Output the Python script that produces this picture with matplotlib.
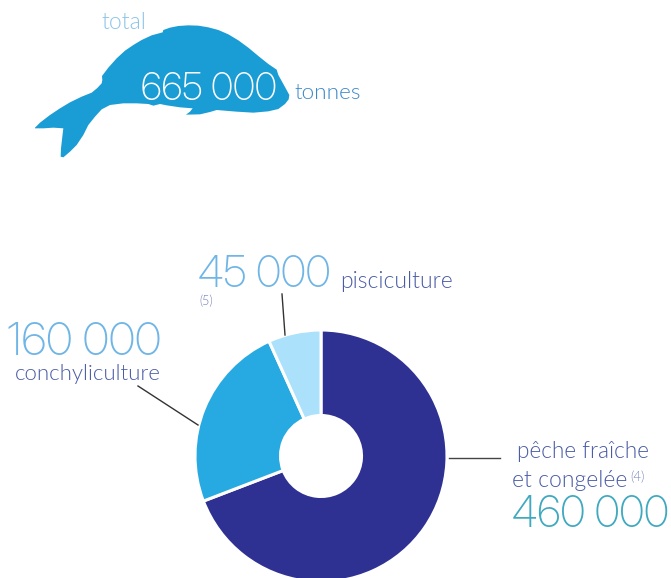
import matplotlib
matplotlib.use("Agg")
import matplotlib.pyplot as plt
from matplotlib.patches import Polygon

H = 578
NUM_FONT = "Inter Display"
TXT_FONT = "Lato"

categories = ["pêche fraîche et congelée", "conchyliculture", "pisciculture"]
tonnes = [460000, 160000, 45000]
colors = ["#2e3192", "#27aae1", "#abe1fa"]

fish_zx = [45, 60, 90, 120, 150, 185, 215, 232, 245, 247, 246, 265, 290, 315, 340, 365, 395, 428,
           430, 450, 475, 505, 535, 565, 595, 625, 655, 685, 715, 745, 770, 775, 790, 808,
           806, 795, 775, 745, 700, 650, 590, 570, 540, 498, 510, 518, 480, 440, 420, 400,
           385, 350, 310, 270, 245, 225, 205, 190, 170, 150, 130, 122, 123, 127, 130, 100, 70, 45]
fish_zy = [383, 368, 345, 325, 307, 290, 278, 264, 250, 240, 228, 203, 175, 152, 135, 120, 106, 97,
           90, 83, 78, 76, 77, 82, 90, 103, 121, 143, 168, 192, 209, 225, 252, 285,
           298, 312, 327, 334, 338, 335, 330, 336, 343, 344, 335, 325, 322, 316, 312, 317,
           312, 310, 310, 315, 328, 350, 375, 405, 435, 455, 472, 470, 445, 410, 385, 383, 385, 385]


def py(y):
    return H - y


def label(x, y, s, size, color, family=TXT_FONT, weight=300):
    ax.text(x, py(y), s, fontsize=size, color=color, ha="left", va="baseline",
            family=family, fontweight=weight)


fig = plt.figure(figsize=(6.71, 5.78), dpi=100)
ax = fig.add_axes([0, 0, 1, 1])

ax.pie(tonnes, colors=colors, startangle=90, counterclock=False,
       center=(321, py(456)), radius=126, frame=True,
       wedgeprops=dict(width=85.5, edgecolor="white", linewidth=2.2))
ax.set_xlim(0, 671)
ax.set_ylim(0, H)
ax.set_aspect("equal")
ax.axis("off")

fish = [(20 + x / 3, py(y / 3)) for x, y in zip(fish_zx, fish_zy)]
ax.add_patch(Polygon(fish, closed=True, facecolor="#1a9cd4", edgecolor="none"))

# leader lines
ax.plot([282, 285], [py(294), py(335)], color="#333333", lw=1)
ax.plot([138, 198], [py(386), py(425)], color="#333333", lw=1)
ax.plot([449, 500], [py(458), py(458)], color="#444444", lw=1)

label(101, 29, "total", 16.5, "#8cc4e8")
label(141, 100, "665 000", 27.3, "white", NUM_FONT, 200)
label(294, 99, "tonnes", 16.2, "#3a87c8")

label(198, 287, "45 000", 31, "#6fb5e6", NUM_FONT, 200)
label(340, 288, "pisciculture", 16.5, "#4a5ba5")
label(199, 305.5, "(5)", 9, "#6f7db8")

label(7, 355, "160 000", 32.7, "#6fb5e6", NUM_FONT, 200)
label(15, 380, "conchyliculture", 16, "#4a5ba5")

label(517, 458, "pêche fraîche", 16.3, "#4a5ba5")
label(512, 487, "et congelée", 16.5, "#4a5ba5")
label(630, 481, "(4)", 9.5, "#6f7db8")
label(512, 527, "460 000", 30.8, "#3fa9bf", NUM_FONT, 200)

fig.savefig("out.png", dpi=100)
